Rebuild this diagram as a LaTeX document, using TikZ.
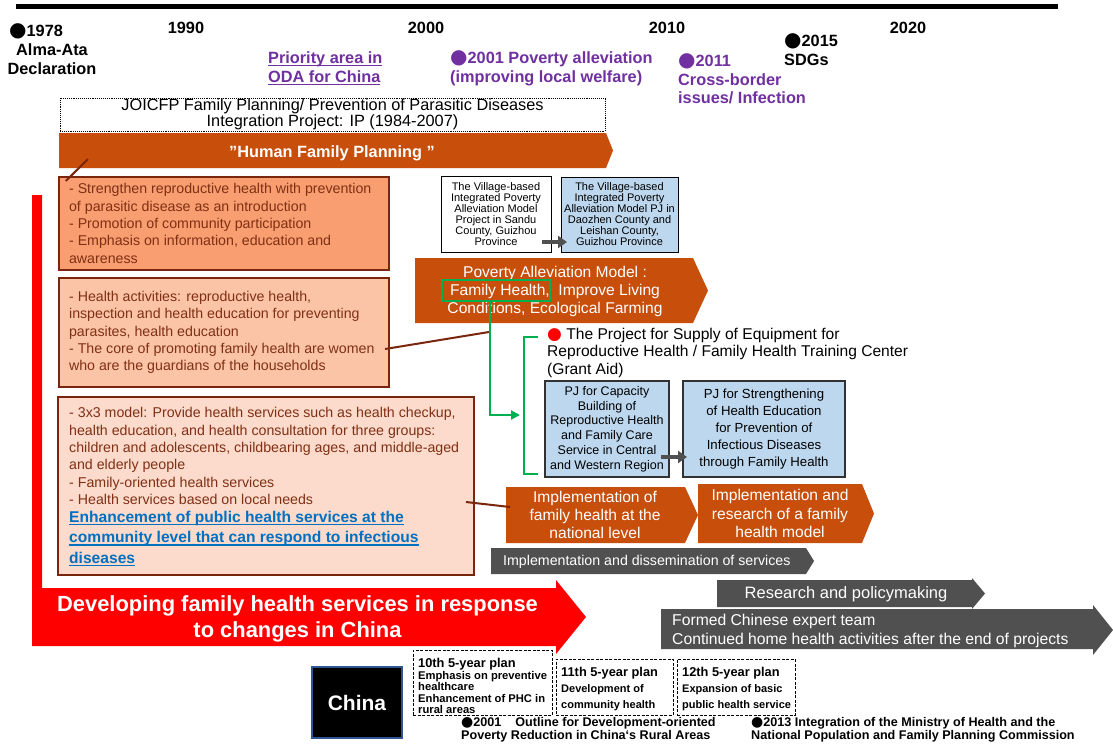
\documentclass[tikz,border=0pt]{standalone}
\usepackage{fontspec}
\setmainfont{Liberation Sans}
\newfontfamily\symf{DejaVu Sans}
\usetikzlibrary{arrows.meta}

\definecolor{hfporange}{RGB}{200,78,12}
\definecolor{salmon}{RGB}{248,158,112}
\definecolor{peach}{RGB}{251,196,166}
\definecolor{blush}{RGB}{252,218,204}
\definecolor{boxline}{RGB}{122,38,14}
\definecolor{boxtext}{RGB}{128,48,20}
\definecolor{lblue}{RGB}{189,215,238}
\definecolor{pjedge}{RGB}{50,50,50}
\definecolor{slate}{RGB}{80,80,80}
\definecolor{purp}{RGB}{112,48,160}
\definecolor{linkblue}{RGB}{0,112,192}
\definecolor{okgreen}{RGB}{0,176,80}
\definecolor{chinaedge}{RGB}{47,85,151}

% round marker glyph: colour, size, vertical shift
\newcommand\dotg[3]{\smash{\raisebox{#3}{\color{#1}\symf\fontsize{#2}{#2}\selectfont ●}}}
% underline a short run of text
\newcommand\ul[1]{{\setbox0\hbox{#1}\rlap{\rule[-2.8pt]{\wd0}{1.3pt}}\box0}}

\begin{document}
\begin{tikzpicture}[x=1pt,y=-1pt,
  lbl/.style={inner sep=0pt, font=\bfseries\fontsize{16.3}{19}\selectfont},
  plabel/.style={lbl, text=purp, align=left, anchor=west},
  notebox/.style={draw=boxline, line width=2.2pt, inner sep=0pt},
  notetext/.style={inner sep=0pt, anchor=west, align=left, text=boxtext, font=\fontsize{14.2}{17.3}\selectfont},
  whitetext/.style={inner sep=0pt, align=center, text=white, font=\fontsize{15.6}{18.4}\selectfont},
  villagebox/.style={draw=black, line width=1pt, inner sep=0pt, align=center, font=\fontsize{11}{11}\selectfont},
  pjbox/.style={draw=pjedge, line width=1.2pt, fill=lblue, inner sep=0pt, align=center},
  linkline/.style={draw=boxline, line width=2pt},
  greenline/.style={draw=okgreen, line width=2pt},
  grayconn/.style={draw=slate, line width=4pt, -{Triangle[length=9pt,width=12pt]}},
  planbox/.style={draw=black, line width=0.9pt, dash pattern=on 3pt off 1.5pt, inner sep=0pt},
  plantext/.style={inner sep=0pt, anchor=west, align=left, font=\bfseries\fontsize{11.2}{11.5}\selectfont},
  bottomnote/.style={inner sep=0pt, anchor=west, align=left, font=\bfseries\fontsize{12.6}{13}\selectfont}
]
\useasboundingbox (0,0) rectangle (1113,748);
\fill[white] (0,0) rectangle (1113,748);

% timeline
\draw[line width=5pt] (16,6.5) -- (1058,6.5);

% milestones and decades
\node[lbl, anchor=west] (y1978) at (9,31) {\dotg{black}{20}{0pt}1978};
\node[lbl, align=center] (alma) at (52,59.5) {Alma-Ata\\Declaration};
\node[lbl] (y1990) at (186,28) {1990};
\node[lbl] (y2000) at (426,28) {2000};
\node[lbl] (y2010) at (667,28) {2010};
\node[lbl] (y2020) at (908,28) {2020};
\node[lbl, anchor=west, align=left] (y2015) at (784,50.5) {\dotg{black}{20}{0pt}2015\\SDGs};
\node[plabel] (oda) at (268,68.5) {\ul{Priority area in}\\\ul{ODA for China}};
\node[plabel] (pov2001) at (450,68.5) {\dotg{purp}{20}{0pt}2001 Poverty alleviation\\(improving local welfare)};
\node[plabel, font=\bfseries\fontsize{16.3}{18.5}\selectfont] (y2011) at (678,79.5) {\dotg{purp}{20}{0pt}2011\\Cross-border\\issues/ Infection};

% JOICFP project frame
\node[draw, densely dotted, line width=0.9pt, minimum width=545pt, minimum height=33pt, inner sep=0pt,
      align=center, font=\fontsize{16.3}{13.5}\selectfont] (joicfp) at (332.5,114.5)
  {JOICFP Family Planning/ Prevention of Parasitic Diseases\\Integration Project: IP (1984-2007)};

% Human Family Planning band
\fill[hfporange] (59,133) -- (606,133) -- (613,150.5) -- (606,168) -- (59,168) -- cycle;
\node[inner sep=0pt, text=white, font=\bfseries\fontsize{16.3}{19}\selectfont] (hfp) at (332,153) {”Human Family Planning ”};

% red L-shaped arrow
\fill[red] (32,195) -- (42,195) -- (42,588) -- (556,588) -- (556,580) -- (586,617) -- (556,654) -- (556,646) -- (32,646) -- cycle;
\node[inner sep=0pt, align=center, text=white, font=\bfseries\fontsize{21.9}{26}\selectfont] (dev) at (297.5,619)
  {Developing family health services in response\\to changes in China};

% activity boxes
\node[notebox, fill=salmon, minimum width=330pt, minimum height=93pt] (b1) at (224,223.5) {};
\node[notetext] (b1t) at ([xshift=11pt]b1.west)
  {- Strengthen reproductive health with prevention\\of parasitic disease as an introduction\\- Promotion of community participation\\- Emphasis on information, education and\\awareness};
\node[notebox, fill=peach, minimum width=330pt, minimum height=109pt] (b2) at (224,332.5) {};
\node[notetext] (b2t) at ([xshift=11pt]b2.west)
  {- Health activities: reproductive health,\\inspection and health education for preventing\\parasites, health education\\- The core of promoting family health are women\\who are the guardians of the households};
\node[notebox, fill=blush, minimum width=416pt, minimum height=178pt] (b3) at (266,486) {};
\node[notetext] (b3t) at (69,456)
  {- 3x3 model: Provide health services such as health checkup,\\health education, and health consultation for three groups:\\children and adolescents, childbearing ages, and middle-aged\\and elderly people\\- Family-oriented health services\\- Health services based on local needs};
\node[notetext, text=linkblue, font=\bfseries\fontsize{15.6}{20.5}\selectfont] (b3link) at (69,538.5)
  {\ul{Enhancement of public health services at the}\\\ul{community level that can respond to infectious}\\\ul{diseases}};

% village projects
\node[villagebox, fill=white, minimum width=110pt, minimum height=76pt] (v1) at (496,214)
  {The Village-based\\Integrated Poverty\\Alleviation Model\\Project in Sandu\\County, Guizhou\\Province};
\node[villagebox, fill=lblue, minimum width=117pt, minimum height=75pt] (v2) at (619.5,214.5)
  {The Village-based\\Integrated Poverty\\Alleviation Model PJ in\\Daozhen County and\\Leishan County,\\Guizhou Province};
\coordinate (v1out) at (542,242);
\coordinate (v2in) at (567,242);
\draw[grayconn] (v1out) -- (v2in);

% poverty alleviation band
\fill[hfporange] (415,258) -- (693,258) -- (708,290.5) -- (693,323) -- (415,323) -- cycle;
\node[whitetext] (pov) at (555,291.5) {Poverty Alleviation Model :\\Family Health,\ \ Improve Living\\Conditions, Ecological Farming};
\node[draw=okgreen, line width=2pt, minimum width=108pt, minimum height=21pt, inner sep=0pt] (fh) at (496,290.5) {};

% grant aid and technical cooperation projects
\node[inner sep=0pt, anchor=west, align=left, font=\fontsize{15.6}{17.5}\selectfont] (supply) at (547,352.5)
  {\dotg{red}{17}{0pt}\ The Project for Supply of Equipment for\\Reproductive Health / Family Health Training Center\\(Grant Aid)};
\node[pjbox, minimum width=124pt, minimum height=96pt, font=\fontsize{12.5}{14.8}\selectfont] (pj1) at (607,429)
  {PJ for Capacity\\Building of\\Reproductive Health\\and Family Care\\Service in Central\\and Western Region};
\node[pjbox, minimum width=162pt, minimum height=96pt, font=\fontsize{13.2}{16.8}\selectfont] (pj2) at (764,429)
  {PJ for Strengthening\\of Health Education\\for Prevention of\\Infectious Diseases\\through Family Health};
\coordinate (pj1out) at (661,457);
\coordinate (pj2in) at (687,457);
\draw[grayconn] (pj1out) -- (pj2in);

% green link from Family Health to the project group
\coordinate (fhdown) at ([xshift=-6pt]fh.south);
\coordinate (grpin) at (520,415);
\draw[greenline, -{Triangle[length=9pt,width=9pt]}] (fhdown) |- (grpin);
\coordinate (brtop) at (538,337);
\coordinate (brbot) at (538,474);
\draw[greenline] (brtop) -- ++(-14,0) |- (brbot);

% implementation bands
\fill[hfporange] (506,487) -- (685,487) -- (698,515) -- (685,543) -- (506,543) -- cycle;
\node[whitetext] (impl1) at (595,515) {Implementation of\\family health at the\\national level};
\fill[hfporange] (698,484) -- (862,484) -- (874,513.5) -- (862,543) -- (698,543) -- cycle;
\node[whitetext] (impl2) at (780,513.5) {Implementation and\\research of a family\\health model};

% grey outcome bands
\fill[slate] (491,548) -- (806,548) -- (814,561) -- (806,574) -- (491,574) -- cycle;
\node[inner sep=0pt, anchor=west, text=white, font=\fontsize{14.2}{17}\selectfont] (dissem) at (503,562) {Implementation and dissemination of services};
\fill[slate] (717,580) -- (972,580) -- (972,578) -- (985,593.5) -- (972,609) -- (972,607) -- (717,607) -- cycle;
\node[inner sep=0pt, text=white, font=\fontsize{16.5}{19}\selectfont] (policy) at (846,594) {Research and policymaking};
\fill[slate] (661,609) -- (1093,609) -- (1093,605) -- (1113,630) -- (1093,655) -- (1093,649) -- (661,649) -- cycle;
\node[inner sep=0pt, anchor=west, align=left, text=white, font=\fontsize{15.7}{18.5}\selectfont] (expert) at (672,631)
  {Formed Chinese expert team\\Continued home health activities after the end of projects};

% connectors from the activity boxes
\coordinate (hfpin) at (88,159);
\draw[linkline] (hfpin) -- ([shift={(8,5)}]b1.north west);
\coordinate (b2out) at (385,349);
\coordinate (povin) at (489,332);
\draw[linkline] (b2out) -- (povin);
\coordinate (b3out) at (466,502);
\coordinate (implin) at (510,507);
\draw[linkline] (b3out) -- (implin);

% China and the five-year plans
\node[fill=black, draw=chinaedge, line width=1.5pt, minimum width=90pt, minimum height=71pt, inner sep=0pt,
      text=white, font=\bfseries\fontsize{21}{24}\selectfont] (china) at (357,702.5) {China};
\node[planbox, minimum width=139pt, minimum height=65pt] (p10) at (482.5,682.5) {};
\node[plantext] (p10t) at (418,686)
  {{\fontsize{12.8}{11.5}\selectfont 10th 5-year plan}\\Emphasis on preventive\\healthcare\\Enhancement of PHC in\\rural areas};
\node[planbox, minimum width=117pt, minimum height=56pt] (p11) at (614.5,687) {};
\node[plantext, font=\bfseries\fontsize{11}{16}\selectfont] (p11t) at (561,689)
  {{\fontsize{12.8}{16}\selectfont 11th 5-year plan}\\Development of\\community health};
\node[planbox, minimum width=118pt, minimum height=56pt] (p12) at (736,687) {};
\node[plantext, font=\bfseries\fontsize{11}{16}\selectfont] (p12t) at (682,689)
  {{\fontsize{12.8}{16}\selectfont 12th 5-year plan}\\Expansion of basic\\public health service};
\node[bottomnote] (n2001) at (461,729.5)
  {\dotg{black}{14}{0pt}2001\hspace{14pt}Outline for Development-oriented\\Poverty Reduction in China‘s Rural Areas};
\node[bottomnote] (n2013) at (751,729.5)
  {\dotg{black}{14}{0pt}2013 Integration of the Ministry of Health and the\\National Population and Family Planning Commission};
\end{tikzpicture}
\end{document}
